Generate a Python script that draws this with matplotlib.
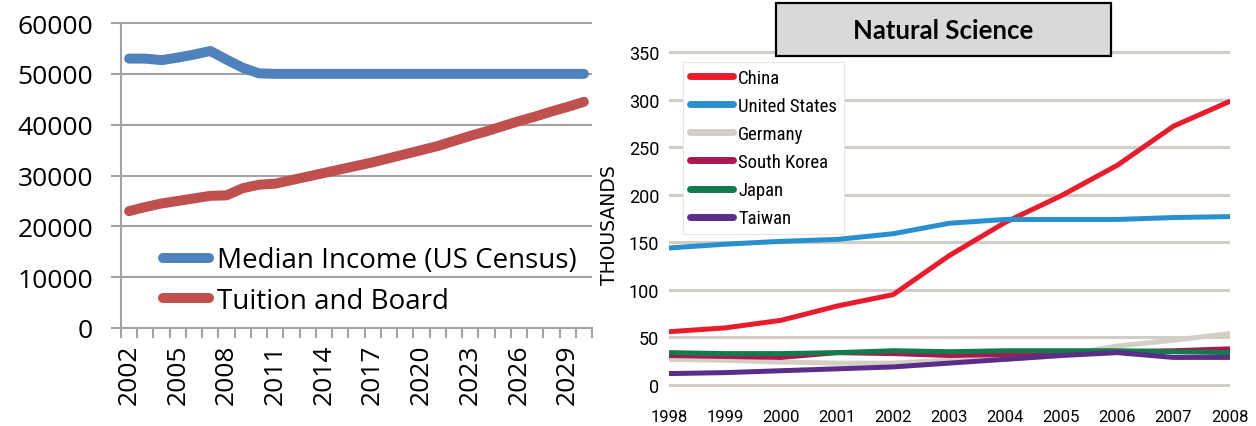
import matplotlib
matplotlib.use("Agg")
import matplotlib.pyplot as plt
from matplotlib import font_manager as fm
from matplotlib.patches import Rectangle

# ---- Cost of college vs. median income -------------------------------------
cost_years = list(range(2002, 2031))
median_income = [53000, 53000, 52700, 53200, 53800, 54500, 52800, 51200,
                 50100, 50000, 50000, 50000, 50000, 50000, 50000, 50000,
                 50000, 50000, 50000, 50000, 50000, 50000, 50000, 50000,
                 50000, 50000, 50000, 50000, 50000]
tuition_board = [23000, 23800, 24500, 25000, 25500, 26000, 26100, 27500,
                 28200, 28400, 29100, 29800, 30500, 31200, 31900, 32600,
                 33400, 34200, 35000, 35800, 36800, 37800, 38700, 39700,
                 40700, 41600, 42600, 43500, 44500]
cost_series = ["Median Income (US Census)", "Tuition and Board"]
cost_colors = ["#4f81bd", "#c0504d"]

# ---- Natural science degrees by country (thousands) ------------------------
sci_years = list(range(1998, 2009))
china = [56, 60, 68, 83, 95, 136, 171, 199, 231, 272, 298]
united_states = [144, 148, 151, 153, 159, 170, 174, 174, 174, 176, 177]
germany = [27, 26, 24, 23, 23, 26, 27, 31, 41, 47, 54]
south_korea = [31, 30, 29, 34, 33, 31, 32, 34, 35, 36, 38]
japan = [34, 33, 33, 34, 36, 35, 36, 36, 36, 35, 34]
taiwan = [12, 13, 15, 17, 19, 23, 27, 31, 34, 29, 29]
countries = ["China", "United States", "Germany", "South Korea", "Japan", "Taiwan"]
country_colors = ["#ea1c2c", "#2a8fcf", "#d3cec6", "#a8194f", "#137a4c", "#5a2d88"]

# pick the narrowest available face for the legend labels
installed = {f.name for f in fm.fontManager.ttflist}
legend_face, legend_size = "Roboto", 12
for face, size in (("Roboto Condensed", 13.5), ("Liberation Sans Narrow", 14.5)):
    if face in installed:
        legend_face, legend_size = face, size
        break

W, H = 1256, 427
fig = plt.figure(figsize=(W / 100, H / 100), dpi=100)

# ============================ left chart ====================================
grid_grey = "#a3a3a3"
left_font = "Open Sans"
axL = fig.add_axes([121 / W, (H - 329) / H, 471 / W, 307 / H])
idx = list(range(len(cost_years)))
axL.plot(idx, median_income, color=cost_colors[0], lw=7.2,
         solid_capstyle="round", solid_joinstyle="round", label=cost_series[0], zorder=3)
axL.plot(idx, tuition_board, color=cost_colors[1], lw=7.2,
         solid_capstyle="round", solid_joinstyle="round", label=cost_series[1], zorder=3)
axL.set_xlim(-0.5, len(cost_years) - 0.5)
axL.set_ylim(0, 60400)
axL.set_yticks(range(0, 60001, 10000))
axL.set_yticklabels([str(v) for v in range(0, 60001, 10000)],
                    fontsize=19, family=left_font)
axL.yaxis.grid(True, color=grid_grey, lw=1.5)
axL.set_axisbelow(True)
axL.tick_params(axis="y", length=7, width=1.5, color=grid_grey, pad=13)
major = list(range(0, len(cost_years), 3))
axL.set_xticks(major)
axL.set_xticklabels([str(cost_years[i]) for i in major], rotation=90,
                    fontsize=19, family=left_font)
axL.set_xticks([i - 0.5 for i in range(len(cost_years) + 1)], minor=True)
axL.tick_params(axis="x", which="major", length=0, pad=11)
axL.tick_params(axis="x", which="minor", length=7, width=1.5, color=grid_grey)
for s in ("top", "right"):
    axL.spines[s].set_visible(False)
for s in ("left", "bottom"):
    axL.spines[s].set_color(grid_grey)
    axL.spines[s].set_linewidth(1.5)
axL.spines["left"].set_bounds(0, 60000)
legL = axL.legend(loc="upper left", bbox_to_anchor=(0.089, 0.266), frameon=False,
                  prop={"family": left_font, "size": 20}, handlelength=1.65,
                  handletextpad=0.3, labelspacing=0.44, borderpad=0, borderaxespad=0)
for h in legL.get_lines():
    h.set_solid_capstyle("round")

# ============================ right chart ===================================
tick_face = "Roboto"
axR = fig.add_axes([669 / W, (H - 387.9) / H, 560.5 / W, 336.8 / H])
for name, vals, col in zip(countries,
                           [china, united_states, germany, south_korea, japan, taiwan],
                           country_colors):
    axR.plot(sci_years, vals, color=col, lw=3.6, label=name,
             solid_capstyle="round", solid_joinstyle="round", zorder=3)
axR.set_xlim(1998, 2008)
axR.set_ylim(-2, 352)
axR.set_yticks(range(0, 351, 50))
axR.set_yticklabels([str(v) for v in range(0, 351, 50)], fontsize=13, family=tick_face)
axR.set_xticks(sci_years)
axR.set_xticklabels([str(y) for y in sci_years], fontsize=12, family=tick_face)
axR.yaxis.grid(True, color="#d2cec6", lw=2.2)
axR.set_axisbelow(True)
axR.tick_params(axis="both", length=0)
axR.tick_params(axis="y", pad=7)
axR.tick_params(axis="x", pad=16)
for s in axR.spines.values():
    s.set_visible(False)
axR.set_ylabel("THOUSANDS", fontsize=13.5, family="DejaVu Sans")
axR.yaxis.set_label_coords((619 - 669) / 560.5, (387.9 - 225) / 336.8)
legR = axR.legend(loc="upper left", bbox_to_anchor=((683 - 669) / 560.5, (387.9 - 63) / 336.8),
                  prop={"family": legend_face, "size": legend_size}, handlelength=2.3,
                  handletextpad=0.3, labelspacing=0.54, borderpad=0.35,
                  borderaxespad=0, fancybox=False, framealpha=1,
                  edgecolor="#e6e6e6", facecolor="white")
legR.get_frame().set_linewidth(0.8)
for h in legR.get_lines():
    h.set_linewidth(5)

# title box
fig.add_artist(Rectangle((776 / W, (H - 57) / H), 335 / W, 53 / H,
                         transform=fig.transFigure, facecolor="#d9d9d9",
                         edgecolor="black", lw=1.6, zorder=5))
fig.text(943.5 / W, (H - 31) / H, "Natural Science", ha="center", va="center",
         fontsize=18.5, fontweight="bold", family="Lato", zorder=6)

fig.savefig("out.png", dpi=100)
